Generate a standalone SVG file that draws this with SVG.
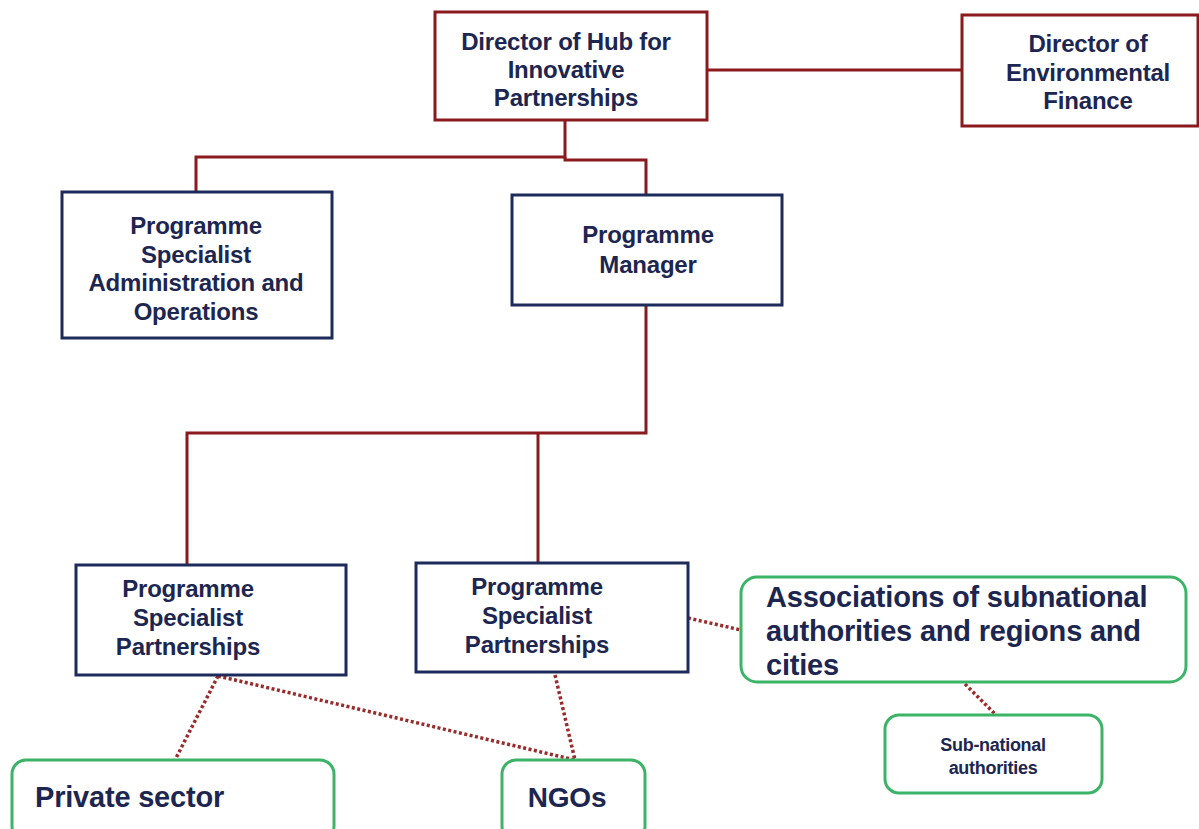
<svg xmlns="http://www.w3.org/2000/svg" width="1199" height="829" viewBox="0 0 1199 829">
<style>
.bg{fill:#ffffff}
.red{fill:#ffffff;stroke:#8b1a1f;stroke-width:3}
.blue{fill:#ffffff;stroke:#1c2b5a;stroke-width:3}
.green{fill:#ffffff;stroke:#3cb468;stroke-width:3}
.t{font-family:"Liberation Sans",Arial,sans-serif;font-weight:bold;fill:#1c2650;font-size:24px;text-anchor:middle;letter-spacing:-0.2px}
.big{font-family:"Liberation Sans",Arial,sans-serif;font-weight:bold;fill:#1c2650;font-size:29px;letter-spacing:-0.2px}
.small{font-family:"Liberation Sans",Arial,sans-serif;font-weight:bold;fill:#1c2650;font-size:18px;text-anchor:middle;letter-spacing:-0.3px}
.solid{fill:none;stroke:#8b1a1f;stroke-width:3}
.dot{fill:none;stroke:#9b2a2a;stroke-width:3.5;stroke-dasharray:3 2.5}
</style>
<rect class="bg" x="0" y="0" width="1199" height="829"/>
<g id="connectors">
<path class="solid" d="M565,121 V157 H196 V192"/>
<path class="solid" d="M565,157 V160 H646 V195"/>
<path class="solid" d="M707,70 H962"/>
<path class="solid" d="M646,305 V433 H187 V565"/>
<path class="solid" d="M538,433 V563"/>
<path class="dot" d="M688,618 L741,630"/>
<path class="dot" d="M965,684 L995,714"/>
<path class="dot" d="M218,676 L175,760"/>
<path class="dot" d="M218,676 L575,760"/>
<path class="dot" d="M555,675 L575,760"/>
</g>
<g id="hub">
<rect class="red" x="435" y="12" width="272" height="108"/>
<text class="t" x="566" y="50">Director of Hub for</text>
<text class="t" x="566" y="78">Innovative</text>
<text class="t" x="566" y="106">Partnerships</text>
</g>
<g id="envfinance">
<rect class="red" x="962" y="15" width="236" height="111"/>
<text class="t" x="1088" y="52">Director of</text>
<text class="t" x="1088" y="81">Environmental</text>
<text class="t" x="1088" y="109">Finance</text>
</g>
<g id="admin">
<rect class="blue" x="62" y="192" width="270" height="146"/>
<text class="t" x="196" y="234">Programme</text>
<text class="t" x="196" y="263">Specialist</text>
<text class="t" x="196" y="291">Administration and</text>
<text class="t" x="196" y="320">Operations</text>
</g>
<g id="manager">
<rect class="blue" x="512" y="195" width="270" height="110"/>
<text class="t" x="648" y="243">Programme</text>
<text class="t" x="648" y="273">Manager</text>
</g>
<g id="psp1">
<rect class="blue" x="76" y="565" width="270" height="110"/>
<text class="t" x="188" y="597">Programme</text>
<text class="t" x="188" y="626">Specialist</text>
<text class="t" x="188" y="655">Partnerships</text>
</g>
<g id="psp2">
<rect class="blue" x="416" y="563" width="272" height="109"/>
<text class="t" x="537" y="595">Programme</text>
<text class="t" x="537" y="624">Specialist</text>
<text class="t" x="537" y="653">Partnerships</text>
</g>
<g id="associations">
<rect class="green" x="741" y="577" width="445" height="105" rx="16"/>
<text class="big" x="766" y="607">Associations of subnational</text>
<text class="big" x="766" y="641">authorities and regions and</text>
<text class="big" x="766" y="675">cities</text>
</g>
<g id="subnational">
<rect class="green" x="885" y="715" width="217" height="78" rx="14"/>
<text class="small" x="993" y="751">Sub-national</text>
<text class="small" x="993" y="774">authorities</text>
</g>
<g id="private">
<rect class="green" x="12" y="760" width="322" height="80" rx="14"/>
<text class="big" x="35" y="807" style="font-size:29px">Private sector</text>
</g>
<g id="ngos">
<rect class="green" x="502" y="760" width="143" height="80" rx="14"/>
<text class="big" x="567" y="807" style="font-size:28px;text-anchor:middle">NGOs</text>
</g>
</svg>
